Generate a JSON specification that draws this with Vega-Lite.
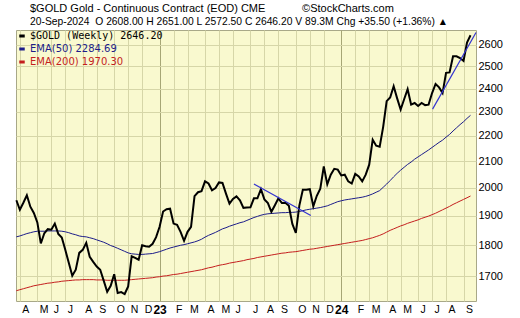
{
  "$schema": "https://vega.github.io/schema/vega-lite/v6.json",
  "width": 460,
  "height": 271,
  "autosize": {"type": "none"},
  "padding": {"left": 16, "top": 30, "right": 44, "bottom": 17},
  "background": "white",
  "title": {
    "text": "$GOLD Gold - Continuous Contract (EOD) CME\u00a0\u00a0\u00a0\u00a0\u00a0\u00a0\u00a0\u00a0\u00a0\u00a0\u00a0\u00a0\u00a9StockCharts.com",
    "subtitle": "20-Sep-2024 \u00a0O 2608.00 H 2651.00 L 2572.50 C 2646.20 V 89.3M Chg +35.50 (+1.36%) \u25b2",
    "anchor": "start",
    "frame": "group",
    "dx": 14,
    "offset": 3,
    "font": "Liberation Sans",
    "fontSize": 11,
    "fontWeight": "normal",
    "color": "#000000",
    "subtitleFont": "Liberation Sans",
    "subtitleFontSize": 10.3,
    "subtitleColor": "#000000",
    "subtitlePadding": 3
  },
  "config": {
    "view": {"fill": "#f9f9cf", "stroke": "#a8a888", "strokeWidth": 1},
    "axis": {"labelFont": "Liberation Sans", "labelColor": "#000000", "domain": false, "ticks": false}
  },
  "datasets": {
    "prices": [
      {"date": "2022-03-25", "close": 1955, "ema50": 1828, "ema200": 1656},
      {"date": "2022-04-01", "close": 1921, "ema50": 1831, "ema200": 1659},
      {"date": "2022-04-08", "close": 1946, "ema50": 1835, "ema200": 1662},
      {"date": "2022-04-15", "close": 1973, "ema50": 1839, "ema200": 1665},
      {"date": "2022-04-22", "close": 1932, "ema50": 1842, "ema200": 1668},
      {"date": "2022-04-29", "close": 1910, "ema50": 1845, "ema200": 1671},
      {"date": "2022-05-06", "close": 1877, "ema50": 1847, "ema200": 1673},
      {"date": "2022-05-13", "close": 1806, "ema50": 1847, "ema200": 1675},
      {"date": "2022-05-20", "close": 1840, "ema50": 1847, "ema200": 1677},
      {"date": "2022-05-27", "close": 1854, "ema50": 1848, "ema200": 1679},
      {"date": "2022-06-03", "close": 1852, "ema50": 1848, "ema200": 1680},
      {"date": "2022-06-10", "close": 1873, "ema50": 1848, "ema200": 1682},
      {"date": "2022-06-17", "close": 1838, "ema50": 1848, "ema200": 1683},
      {"date": "2022-06-24", "close": 1826, "ema50": 1847, "ema200": 1685},
      {"date": "2022-07-01", "close": 1785, "ema50": 1845, "ema200": 1686},
      {"date": "2022-07-08", "close": 1743, "ema50": 1842, "ema200": 1687},
      {"date": "2022-07-15", "close": 1702, "ema50": 1838, "ema200": 1688},
      {"date": "2022-07-22", "close": 1721, "ema50": 1835, "ema200": 1689},
      {"date": "2022-07-29", "close": 1775, "ema50": 1831, "ema200": 1689},
      {"date": "2022-08-05", "close": 1785, "ema50": 1829, "ema200": 1690},
      {"date": "2022-08-12", "close": 1808, "ema50": 1828, "ema200": 1690},
      {"date": "2022-08-19", "close": 1762, "ema50": 1825, "ema200": 1690},
      {"date": "2022-08-26", "close": 1746, "ema50": 1822, "ema200": 1690},
      {"date": "2022-09-02", "close": 1731, "ema50": 1818, "ema200": 1689},
      {"date": "2022-09-09", "close": 1721, "ema50": 1814, "ema200": 1689},
      {"date": "2022-09-16", "close": 1687, "ema50": 1810, "ema200": 1689},
      {"date": "2022-09-23", "close": 1653, "ema50": 1805, "ema200": 1688},
      {"date": "2022-09-30", "close": 1671, "ema50": 1799, "ema200": 1688},
      {"date": "2022-10-07", "close": 1707, "ema50": 1795, "ema200": 1688},
      {"date": "2022-10-14", "close": 1649, "ema50": 1790, "ema200": 1688},
      {"date": "2022-10-21", "close": 1652, "ema50": 1785, "ema200": 1688},
      {"date": "2022-10-28", "close": 1646, "ema50": 1780, "ema200": 1688},
      {"date": "2022-11-04", "close": 1669, "ema50": 1775, "ema200": 1689},
      {"date": "2022-11-11", "close": 1764, "ema50": 1772, "ema200": 1690},
      {"date": "2022-11-18", "close": 1759, "ema50": 1771, "ema200": 1691},
      {"date": "2022-11-25", "close": 1753, "ema50": 1770, "ema200": 1692},
      {"date": "2022-12-02", "close": 1800, "ema50": 1770, "ema200": 1693},
      {"date": "2022-12-09", "close": 1797, "ema50": 1771, "ema200": 1694},
      {"date": "2022-12-16", "close": 1795, "ema50": 1772, "ema200": 1695},
      {"date": "2022-12-23", "close": 1805, "ema50": 1773, "ema200": 1696},
      {"date": "2022-12-30", "close": 1827, "ema50": 1776, "ema200": 1698},
      {"date": "2023-01-06", "close": 1862, "ema50": 1779, "ema200": 1699},
      {"date": "2023-01-13", "close": 1915, "ema50": 1783, "ema200": 1701},
      {"date": "2023-01-20", "close": 1923, "ema50": 1787, "ema200": 1702},
      {"date": "2023-01-27", "close": 1925, "ema50": 1791, "ema200": 1704},
      {"date": "2023-02-03", "close": 1873, "ema50": 1794, "ema200": 1706},
      {"date": "2023-02-10", "close": 1869, "ema50": 1797, "ema200": 1707},
      {"date": "2023-02-17", "close": 1845, "ema50": 1800, "ema200": 1709},
      {"date": "2023-02-24", "close": 1815, "ema50": 1802, "ema200": 1711},
      {"date": "2023-03-03", "close": 1845, "ema50": 1805, "ema200": 1713},
      {"date": "2023-03-10", "close": 1862, "ema50": 1808, "ema200": 1715},
      {"date": "2023-03-17", "close": 1970, "ema50": 1811, "ema200": 1717},
      {"date": "2023-03-24", "close": 1984, "ema50": 1815, "ema200": 1719},
      {"date": "2023-03-31", "close": 1988, "ema50": 1820, "ema200": 1721},
      {"date": "2023-04-07", "close": 2024, "ema50": 1827, "ema200": 1724},
      {"date": "2023-04-14", "close": 2016, "ema50": 1833, "ema200": 1727},
      {"date": "2023-04-21", "close": 1991, "ema50": 1838, "ema200": 1729},
      {"date": "2023-04-28", "close": 1999, "ema50": 1843, "ema200": 1732},
      {"date": "2023-05-05", "close": 2020, "ema50": 1849, "ema200": 1735},
      {"date": "2023-05-12", "close": 2018, "ema50": 1855, "ema200": 1737},
      {"date": "2023-05-19", "close": 1979, "ema50": 1859, "ema200": 1739},
      {"date": "2023-05-26", "close": 1943, "ema50": 1864, "ema200": 1742},
      {"date": "2023-06-02", "close": 1960, "ema50": 1868, "ema200": 1744},
      {"date": "2023-06-09", "close": 1969, "ema50": 1872, "ema200": 1746},
      {"date": "2023-06-16", "close": 1955, "ema50": 1876, "ema200": 1748},
      {"date": "2023-06-23", "close": 1928, "ema50": 1879, "ema200": 1750},
      {"date": "2023-06-30", "close": 1929, "ema50": 1884, "ema200": 1753},
      {"date": "2023-07-07", "close": 1930, "ema50": 1889, "ema200": 1755},
      {"date": "2023-07-14", "close": 1962, "ema50": 1894, "ema200": 1757},
      {"date": "2023-07-21", "close": 1962, "ema50": 1898, "ema200": 1760},
      {"date": "2023-07-28", "close": 1995, "ema50": 1902, "ema200": 1762},
      {"date": "2023-08-04", "close": 1958, "ema50": 1905, "ema200": 1764},
      {"date": "2023-08-11", "close": 1945, "ema50": 1907, "ema200": 1766},
      {"date": "2023-08-18", "close": 1914, "ema50": 1908, "ema200": 1768},
      {"date": "2023-08-25", "close": 1937, "ema50": 1909, "ema200": 1770},
      {"date": "2023-09-01", "close": 1962, "ema50": 1910, "ema200": 1772},
      {"date": "2023-09-08", "close": 1945, "ema50": 1911, "ema200": 1774},
      {"date": "2023-09-15", "close": 1946, "ema50": 1911, "ema200": 1775},
      {"date": "2023-09-22", "close": 1935, "ema50": 1912, "ema200": 1777},
      {"date": "2023-09-29", "close": 1872, "ema50": 1912, "ema200": 1778},
      {"date": "2023-10-06", "close": 1841, "ema50": 1913, "ema200": 1779},
      {"date": "2023-10-13", "close": 1936, "ema50": 1915, "ema200": 1781},
      {"date": "2023-10-20", "close": 1993, "ema50": 1918, "ema200": 1783},
      {"date": "2023-10-27", "close": 1993, "ema50": 1921, "ema200": 1785},
      {"date": "2023-11-03", "close": 1995, "ema50": 1923, "ema200": 1787},
      {"date": "2023-11-10", "close": 1933, "ema50": 1925, "ema200": 1788},
      {"date": "2023-11-17", "close": 1971, "ema50": 1927, "ema200": 1790},
      {"date": "2023-11-24", "close": 1997, "ema50": 1929, "ema200": 1792},
      {"date": "2023-12-01", "close": 2080, "ema50": 1932, "ema200": 1794},
      {"date": "2023-12-08", "close": 2013, "ema50": 1935, "ema200": 1796},
      {"date": "2023-12-15", "close": 2049, "ema50": 1940, "ema200": 1798},
      {"date": "2023-12-22", "close": 2071, "ema50": 1945, "ema200": 1800},
      {"date": "2023-12-29", "close": 2068, "ema50": 1950, "ema200": 1802},
      {"date": "2024-01-05", "close": 2046, "ema50": 1953, "ema200": 1804},
      {"date": "2024-01-12", "close": 2049, "ema50": 1956, "ema200": 1806},
      {"date": "2024-01-19", "close": 2024, "ema50": 1958, "ema200": 1808},
      {"date": "2024-01-26", "close": 2016, "ema50": 1960, "ema200": 1810},
      {"date": "2024-02-02", "close": 2052, "ema50": 1962, "ema200": 1812},
      {"date": "2024-02-09", "close": 2042, "ema50": 1964, "ema200": 1814},
      {"date": "2024-02-16", "close": 2024, "ema50": 1966, "ema200": 1816},
      {"date": "2024-02-23", "close": 2049, "ema50": 1969, "ema200": 1819},
      {"date": "2024-03-01", "close": 2087, "ema50": 1973, "ema200": 1822},
      {"date": "2024-03-08", "close": 2185, "ema50": 1978, "ema200": 1825},
      {"date": "2024-03-15", "close": 2161, "ema50": 1984, "ema200": 1829},
      {"date": "2024-03-22", "close": 2157, "ema50": 1990, "ema200": 1833},
      {"date": "2024-03-29", "close": 2237, "ema50": 2002, "ema200": 1838},
      {"date": "2024-04-05", "close": 2345, "ema50": 2014, "ema200": 1844},
      {"date": "2024-04-12", "close": 2361, "ema50": 2027, "ema200": 1850},
      {"date": "2024-04-19", "close": 2410, "ema50": 2041, "ema200": 1855},
      {"date": "2024-04-26", "close": 2357, "ema50": 2054, "ema200": 1860},
      {"date": "2024-05-03", "close": 2309, "ema50": 2066, "ema200": 1865},
      {"date": "2024-05-10", "close": 2353, "ema50": 2077, "ema200": 1869},
      {"date": "2024-05-17", "close": 2397, "ema50": 2088, "ema200": 1874},
      {"date": "2024-05-24", "close": 2330, "ema50": 2097, "ema200": 1878},
      {"date": "2024-05-31", "close": 2337, "ema50": 2108, "ema200": 1882},
      {"date": "2024-06-07", "close": 2324, "ema50": 2117, "ema200": 1886},
      {"date": "2024-06-14", "close": 2337, "ema50": 2126, "ema200": 1891},
      {"date": "2024-06-21", "close": 2328, "ema50": 2135, "ema200": 1895},
      {"date": "2024-06-28", "close": 2330, "ema50": 2144, "ema200": 1899},
      {"date": "2024-07-05", "close": 2380, "ema50": 2154, "ema200": 1904},
      {"date": "2024-07-12", "close": 2420, "ema50": 2164, "ema200": 1909},
      {"date": "2024-07-19", "close": 2405, "ema50": 2174, "ema200": 1915},
      {"date": "2024-07-26", "close": 2380, "ema50": 2183, "ema200": 1921},
      {"date": "2024-08-02", "close": 2470, "ema50": 2195, "ema200": 1927},
      {"date": "2024-08-09", "close": 2472, "ema50": 2206, "ema200": 1933},
      {"date": "2024-08-16", "close": 2546, "ema50": 2220, "ema200": 1940},
      {"date": "2024-08-23", "close": 2546, "ema50": 2233, "ema200": 1946},
      {"date": "2024-08-30", "close": 2538, "ema50": 2246, "ema200": 1952},
      {"date": "2024-09-06", "close": 2525, "ema50": 2258, "ema200": 1958},
      {"date": "2024-09-13", "close": 2611, "ema50": 2272, "ema200": 1964},
      {"date": "2024-09-20", "close": 2646.2, "ema50": 2284.69, "ema200": 1970.3}
    ],
    "trend": [
      {"date": "2023-07-14", "price": 2014, "seg": "a"},
      {"date": "2023-11-05", "price": 1901, "seg": "a"},
      {"date": "2024-07-06", "price": 2311, "seg": "b"},
      {"date": "2024-10-01", "price": 2660, "seg": "b"}
    ]
  },
  "layer": [
    {
      "data": {"name": "prices"},
      "mark": {"type": "line", "strokeWidth": 1},
      "encoding": {
        "x": {
          "field": "date", "type": "temporal",
          "scale": {"type": "utc", "domain": [{"year": 2022, "month": 3, "date": 24, "hours": 6, "utc": true}, {"year": 2024, "month": 10, "date": 1, "utc": true}]},
          "axis": {
            "title": null,
            "tickCount": 60,
            "values": [
              {"year": 2022, "month": 4, "date": 1, "utc": true}, {"year": 2022, "month": 5, "date": 6, "utc": true}, {"year": 2022, "month": 6, "date": 3, "utc": true},
              {"year": 2022, "month": 7, "date": 1, "utc": true}, {"year": 2022, "month": 8, "date": 5, "utc": true}, {"year": 2022, "month": 9, "date": 2, "utc": true},
              {"year": 2022, "month": 10, "date": 7, "utc": true}, {"year": 2022, "month": 11, "date": 4, "utc": true}, {"year": 2022, "month": 12, "date": 2, "utc": true},
              {"year": 2023, "month": 1, "date": 6, "utc": true}, {"year": 2023, "month": 2, "date": 3, "utc": true}, {"year": 2023, "month": 3, "date": 3, "utc": true},
              {"year": 2023, "month": 4, "date": 7, "utc": true}, {"year": 2023, "month": 5, "date": 5, "utc": true}, {"year": 2023, "month": 6, "date": 2, "utc": true},
              {"year": 2023, "month": 7, "date": 7, "utc": true}, {"year": 2023, "month": 8, "date": 4, "utc": true}, {"year": 2023, "month": 9, "date": 1, "utc": true},
              {"year": 2023, "month": 10, "date": 6, "utc": true}, {"year": 2023, "month": 11, "date": 3, "utc": true}, {"year": 2023, "month": 12, "date": 1, "utc": true},
              {"year": 2024, "month": 1, "date": 5, "utc": true}, {"year": 2024, "month": 2, "date": 2, "utc": true}, {"year": 2024, "month": 3, "date": 1, "utc": true},
              {"year": 2024, "month": 4, "date": 5, "utc": true}, {"year": 2024, "month": 5, "date": 3, "utc": true}, {"year": 2024, "month": 6, "date": 7, "utc": true},
              {"year": 2024, "month": 7, "date": 5, "utc": true}, {"year": 2024, "month": 8, "date": 2, "utc": true}, {"year": 2024, "month": 9, "date": 6, "utc": true}
            ],
            "labelExpr": "utcmonth(datum.value) == 0 ? utcFormat(datum.value, '%y') : slice(utcFormat(datum.value, '%b'), 0, 1)",
            "labelFontWeight": {"condition": {"test": "utcmonth(datum.value) == 0", "value": "bold"}, "value": "normal"},
            "labelFontSize": {"condition": {"test": "utcmonth(datum.value) == 0", "value": 12}, "value": 10.5},
            "labelAlign": {"condition": {"test": "utcmonth(datum.value) == 0", "value": "center"}, "value": "left"},
            "labelOffset": {"condition": {"test": "utcmonth(datum.value) == 0", "value": 0}, "value": 2},
            "labelPadding": 3,
            "labelFlush": false,
            "labelOverlap": false,
            "grid": true,
            "gridColor": {"condition": {"test": "utcmonth(datum.value) == 0", "value": "#a6a676"}, "value": "#d6d6a8"},
            "gridWidth": 1
          }
        },
        "y": {
          "field": "ema200", "type": "quantitative",
          "scale": {"type": "log", "domain": [1625, 2672], "nice": false, "zero": false},
          "axis": {
            "title": null, "orient": "right",
            "values": [1700, 1800, 1900, 2000, 2100, 2200, 2300, 2400, 2500, 2600],
            "format": "d", "labelFontSize": 11, "labelPadding": 2,
            "grid": true, "gridColor": "#d6d6a8", "gridWidth": 1
          }
        },
        "color": {
          "datum": "ema200", "type": "nominal",
          "scale": {"domain": ["close", "ema50", "ema200"], "range": ["#000000", "#1c1c8a", "#c41e1e"]},
          "legend": {
            "title": null, "orient": "top-left", "offset": 0, "padding": 1,
            "symbolType": "stroke", "symbolSize": 30, "symbolStrokeWidth": 3,
            "rowPadding": 1, "labelOffset": 3, "labelFontSize": 10,
            "labelFont": {"expr": "datum.value == 'close' ? 'DejaVu Sans Mono' : 'DejaVu Sans'"},
            "labelExpr": "datum.value == 'close' ? '$GOLD (Weekly) 2646.20' : datum.value == 'ema50' ? 'EMA(50) 2284.69' : 'EMA(200) 1970.30'",
            "labelColor": {"expr": "datum.value == 'close' ? '#000000' : datum.value == 'ema50' ? '#1c1c8a' : '#c41e1e'"}
          }
        }
      }
    },
    {
      "data": {"name": "prices"},
      "mark": {"type": "line", "strokeWidth": 1},
      "encoding": {
        "x": {"field": "date", "type": "temporal"},
        "y": {"field": "ema50", "type": "quantitative"},
        "color": {"datum": "ema50", "type": "nominal"}
      }
    },
    {
      "data": {"name": "prices"},
      "mark": {"type": "line", "strokeWidth": 2},
      "encoding": {
        "x": {"field": "date", "type": "temporal"},
        "y": {"field": "close", "type": "quantitative"},
        "color": {"datum": "close", "type": "nominal"}
      }
    },
    {
      "data": {"name": "trend"},
      "mark": {"type": "line", "strokeWidth": 1.2, "color": "#3434d0"},
      "encoding": {
        "x": {"field": "date", "type": "temporal"},
        "y": {"field": "price", "type": "quantitative"},
        "detail": {"field": "seg", "type": "nominal"}
      }
    }
  ]
}
